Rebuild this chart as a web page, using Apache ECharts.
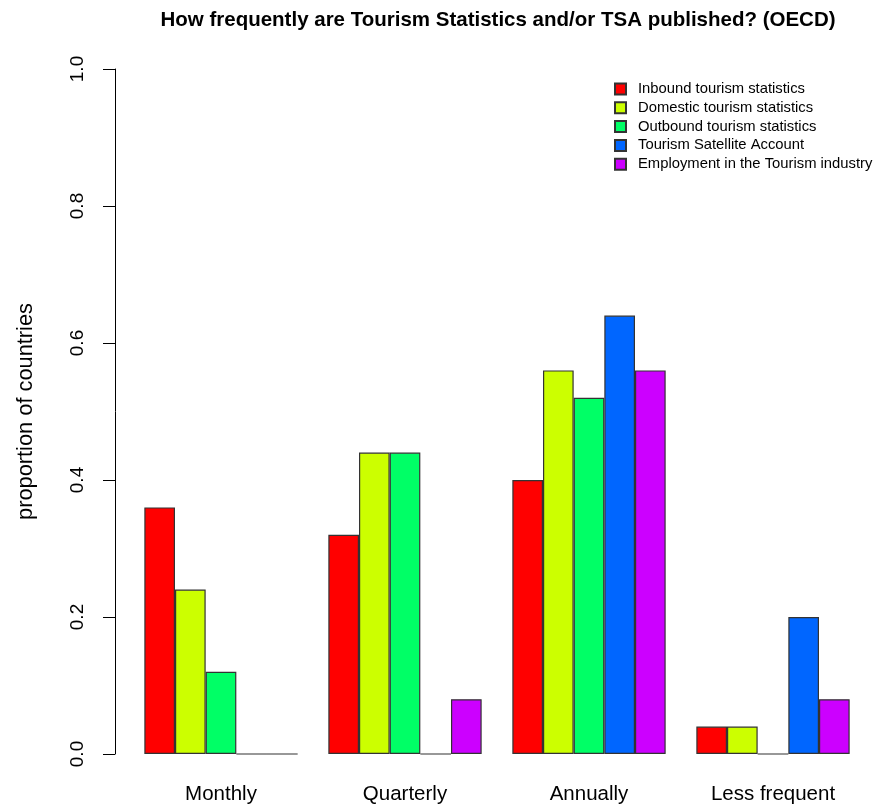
<!DOCTYPE html>
<html>
<head>
<meta charset="utf-8">
<script src="https://cdn.jsdelivr.net/npm/echarts@6/dist/echarts.min.js"></script>
<style>html,body{margin:0;padding:0;background:#fff}#c{width:876px;height:807px}</style>
</head>
<body>
<div id="c"></div>
<script>
var categories = ['Monthly', 'Quarterly', 'Annually', 'Less frequent'];
var seriesNames = ['Inbound tourism statistics', 'Domestic tourism statistics', 'Outbound tourism statistics', 'Tourism Satellite Account', 'Employment in the Tourism industry'];
var inbound = [0.36, 0.32, 0.40, 0.04];
var domestic = [0.24, 0.44, 0.56, 0.04];
var outbound = [0.12, 0.44, 0.52, 0.00];
var tsa = [0.00, 0.00, 0.64, 0.20];
var employment = [0.00, 0.08, 0.56, 0.08];
var yTicks = ['0.0', '0.2', '0.4', '0.6', '0.8', '1.0'];
var colors = ['#FF0000', '#CCFF00', '#00FF66', '#0066FF', '#CC00FF'];
var allValues = [inbound, domestic, outbound, tsa, employment];

var font = '"Liberation Sans", Arial, sans-serif';
var chart = echarts.init(document.getElementById('c'));
chart.setOption({
  animation: false,
  backgroundColor: '#fff',
  color: colors,
  title: {
    text: 'How frequently are Tourism Statistics and/or TSA published? (OECD)',
    left: 493, top: 5, textAlign: 'center',
    textStyle: {fontFamily: font, fontSize: 20.5, fontWeight: 'bold', color: '#000'}
  },
  legend: {
    orient: 'vertical', left: 609, top: 76.5,
    itemWidth: 11, itemHeight: 11, itemGap: 3.8, icon: 'rect',
    textStyle: {fontFamily: font, fontSize: 14.8, color: '#000', padding: [0, 0, 0, 7]},
    data: seriesNames
  },
  grid: {left: 129, right: 11, top: 69, bottom: 53, containLabel: false},
  xAxis: {
    type: 'category', data: categories,
    axisLine: {show: false}, axisTick: {show: false},
    axisLabel: {fontFamily: font, fontSize: 20.5, color: '#000', margin: 30}
  },
  yAxis: {
    type: 'value', min: 0, max: 1, interval: 0.2, offset: 14,
    name: 'proportion of countries', nameLocation: 'middle', nameGap: 78,
    nameTextStyle: {fontFamily: font, fontSize: 21.8, color: '#000'},
    splitLine: {show: false},
    axisLine: {show: true, lineStyle: {color: '#000', width: 1}},
    axisTick: {show: true, length: 12, lineStyle: {color: '#000'}},
    axisLabel: {
      fontFamily: font, fontSize: 19, color: '#000', rotate: 90, margin: 28,
      formatter: function (v) { return yTicks[Math.round(v / 0.2)]; }
    }
  },
  series: seriesNames.map(function (n, i) {
    return {
      name: n, type: 'bar', data: allValues[i],
      barGap: '0%', barCategoryGap: '16.667%',
      itemStyle: {borderColor: '#333', borderWidth: 1.2}
    };
  })
});
</script>
</body>
</html>
